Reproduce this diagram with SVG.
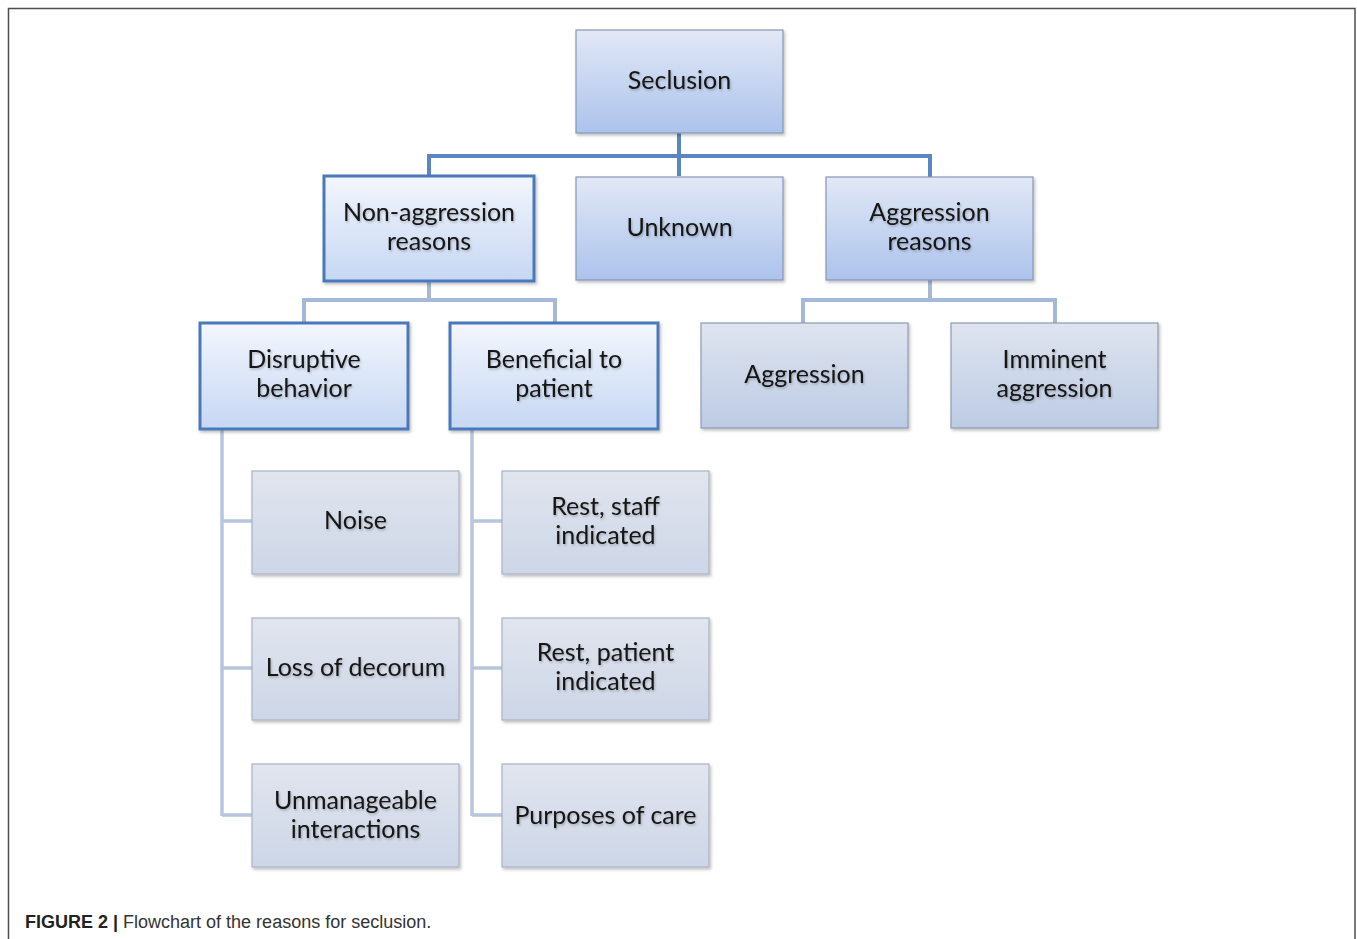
<svg xmlns="http://www.w3.org/2000/svg" width="1357" height="939" viewBox="0 0 1357 939">
  <defs>
    <linearGradient id="gBlue" x1="0" y1="0" x2="0" y2="1">
      <stop offset="0" stop-color="#e2e8f6"/>
      <stop offset="1" stop-color="#acc3ec"/>
    </linearGradient>
    <linearGradient id="gGrey" x1="0" y1="0" x2="0" y2="1">
      <stop offset="0" stop-color="#dfe4ef"/>
      <stop offset="1" stop-color="#bccbe4"/>
    </linearGradient>
    <linearGradient id="gPale" x1="0" y1="0" x2="0" y2="1">
      <stop offset="0" stop-color="#f3f6fd"/>
      <stop offset="1" stop-color="#c6d7f3"/>
    </linearGradient>
    <linearGradient id="gLeaf" x1="0" y1="0" x2="0" y2="1">
      <stop offset="0" stop-color="#e1e5ee"/>
      <stop offset="1" stop-color="#cdd6e7"/>
    </linearGradient>
    <filter id="shadow" x="-10%" y="-10%" width="125%" height="130%">
      <feDropShadow dx="1.5" dy="2" stdDeviation="1.5" flood-color="#000" flood-opacity="0.25"/>
    </filter>
    <filter id="tglow" x="-10%" y="-30%" width="120%" height="160%">
      <feDropShadow dx="1" dy="1.5" stdDeviation="1.2" flood-color="#000" flood-opacity="0.25"/>
    </filter>
  </defs>
  <style>
    .frame { fill: none; stroke: #4d4d4d; stroke-width: 1.5; }
    .box { filter: url(#shadow); }
    .lvl1 { fill: url(#gBlue); stroke: #8797b2; stroke-width: 1.2; }
    .lvl1g { fill: url(#gGrey); stroke: #8f9bb1; stroke-width: 1.2; }
    .hl { fill: url(#gPale); stroke: #4a78bb; stroke-width: 3; }
    .leaf { fill: url(#gLeaf); stroke: #aab3c4; stroke-width: 1.2; }
    .lbl { font-family: Lato, "Open Sans", "Liberation Sans", sans-serif; font-size: 25px; fill: #141414; text-anchor: middle; filter: url(#tglow); }
    .c1 { fill: none; stroke: #5a86c4; stroke-width: 4; }
    .c2 { fill: none; stroke: #a5b8d7; stroke-width: 4; }
    .c3 { fill: none; stroke: #b7c5de; stroke-width: 3.5; }
    .cap { font-family: "Liberation Sans", Arial, sans-serif; font-size: 18px; fill: #333; }
  </style>

  <rect width="1357" height="939" fill="#ffffff"/>
  <path class="frame" d="M8.5,950 V8.5 H1355 V950"/>

  <!-- connectors -->
  <g id="connectors">
    <path class="c1" d="M679,133 V176 M429,176 V156 H930 V177"/>
    <path class="c2" d="M429,282 V300 M304,322 V300 H555 V322"/>
    <path class="c2" d="M930,280 V300 M803,323 V300 H1055 V323"/>
    <path class="c3" d="M222,430 V816 M222,521 H252 M222,668 H252 M222,815 H252"/>
    <path class="c3" d="M472,430 V816 M472,521 H502 M472,668 H502 M472,815 H502"/>
  </g>

  <!-- top level -->
  <g id="seclusion" class="box">
    <rect class="lvl1" x="576" y="30" width="207" height="103"/>
    <text class="lbl" x="679.5" y="89">Seclusion</text>
  </g>

  <!-- second level -->
  <g id="non-aggression" class="box">
    <rect class="hl" x="324" y="176" width="210" height="105"/>
    <text class="lbl" x="429" y="221">Non-aggression</text>
    <text class="lbl" x="429" y="250">reasons</text>
  </g>
  <g id="unknown" class="box">
    <rect class="lvl1" x="576" y="177" width="207" height="103"/>
    <text class="lbl" x="679.5" y="236">Unknown</text>
  </g>
  <g id="aggression-reasons" class="box">
    <rect class="lvl1" x="826" y="177" width="207" height="103"/>
    <text class="lbl" x="929.5" y="221">Aggression</text>
    <text class="lbl" x="929.5" y="250">reasons</text>
  </g>

  <!-- third level -->
  <g id="disruptive" class="box">
    <rect class="hl" x="200" y="323" width="208" height="106"/>
    <text class="lbl" x="304" y="368">Disruptive</text>
    <text class="lbl" x="304" y="397">behavior</text>
  </g>
  <g id="beneficial" class="box">
    <rect class="hl" x="450" y="323" width="208" height="106"/>
    <text class="lbl" x="554" y="368">Beneficial to</text>
    <text class="lbl" x="554" y="397">patient</text>
  </g>
  <g id="aggression" class="box">
    <rect class="lvl1g" x="701" y="323" width="207" height="105"/>
    <text class="lbl" x="804.5" y="383">Aggression</text>
  </g>
  <g id="imminent" class="box">
    <rect class="lvl1g" x="951" y="323" width="207" height="105"/>
    <text class="lbl" x="1054.5" y="368">Imminent</text>
    <text class="lbl" x="1054.5" y="397">aggression</text>
  </g>

  <!-- leaves: disruptive behavior -->
  <g id="noise" class="box">
    <rect class="leaf" x="252" y="471" width="207" height="103"/>
    <text class="lbl" x="355.5" y="529">Noise</text>
  </g>
  <g id="loss-of-decorum" class="box">
    <rect class="leaf" x="252" y="618" width="207" height="102"/>
    <text class="lbl" x="355.5" y="676">Loss of decorum</text>
  </g>
  <g id="unmanageable" class="box">
    <rect class="leaf" x="252" y="764" width="207" height="103"/>
    <text class="lbl" x="355.5" y="809">Unmanageable</text>
    <text class="lbl" x="355.5" y="838">interactions</text>
  </g>

  <!-- leaves: beneficial to patient -->
  <g id="rest-staff" class="box">
    <rect class="leaf" x="502" y="471" width="207" height="103"/>
    <text class="lbl" x="605.5" y="515">Rest, staff</text>
    <text class="lbl" x="605.5" y="544">indicated</text>
  </g>
  <g id="rest-patient" class="box">
    <rect class="leaf" x="502" y="618" width="207" height="102"/>
    <text class="lbl" x="605.5" y="661">Rest, patient</text>
    <text class="lbl" x="605.5" y="690">indicated</text>
  </g>
  <g id="purposes" class="box">
    <rect class="leaf" x="502" y="764" width="207" height="103"/>
    <text class="lbl" x="605.5" y="824">Purposes of care</text>
  </g>

  <text class="cap" x="25" y="928"><tspan font-weight="bold" fill="#222">FIGURE 2 |</tspan> Flowchart of the reasons for seclusion.</text>
</svg>
